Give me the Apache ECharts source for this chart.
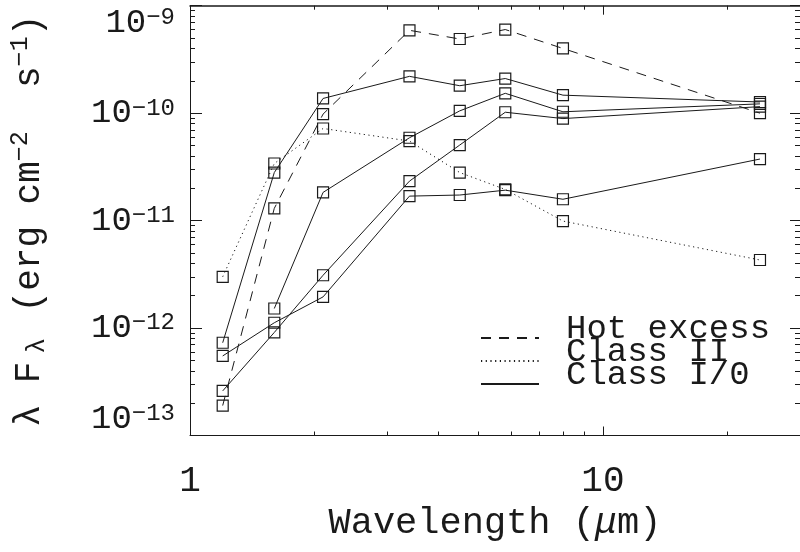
<!DOCTYPE html>
<html>
<head>
<meta charset="utf-8">
<script src="https://cdn.jsdelivr.net/npm/echarts@6/dist/echarts.min.js"></script>
<style>
  html, body { margin: 0; padding: 0; background: #fff; }
  #sed { width: 800px; height: 552px; }
</style>
</head>
<body>
<div id="sed"></div>
<script>
// wavelengths (micron) of the photometry
const wavelength = [1.2, 1.6, 2.1, 3.4, 4.5, 5.8, 8.0, 24];
// lambda F_lambda, erg cm^-2 s^-1
const hotExcess = [1.9e-13, 1.3e-11, 9.8e-11, 5.9e-10, 4.9e-10, 6.0e-10, 4.0e-10, 1.0e-10];
const classII = [3.0e-12, 3.4e-11, 7.2e-11, 5.5e-11, 2.8e-11, 1.95e-11, 9.9e-12, 4.3e-12];
const classI0 = [
  [7.3e-13, 2.8e-11, 1.37e-10, 2.2e-10, 1.8e-10, 2.1e-10, 1.47e-10, 1.27e-10],
  [null, 1.52e-12, 1.83e-11, 5.9e-11, 1.05e-10, 1.53e-10, 1.03e-10, 1.22e-10],
  [2.6e-13, 9.1e-13, 3.1e-12, 2.33e-11, 5.05e-11, 1.02e-10, 8.9e-11, 1.15e-10],
  [5.5e-13, 1.12e-12, 1.95e-12, 1.69e-11, 1.73e-11, 1.92e-11, 1.58e-11, 3.74e-11]
];
const xMajor = [1, 10];
const xMinor = [2, 3, 4, 5, 6, 7, 8, 9, 20];
const yMajor = [1e-13, 1e-12, 1e-11, 1e-10, 1e-9];

const MONO = "'Liberation Mono', 'DejaVu Sans Mono', monospace";
const INK = "#1a1a1a";

// 2..9 within each decade
const yMinor = [];
for (let e = -13; e < -9; e++) {
  for (let k = 2; k <= 9; k++) yMinor.push(k * Math.pow(10, e));
}

const pairs = (ys) => wavelength.map((x, i) => [x, ys[i] == null ? "-" : ys[i]]);

const baseSeries = {
  type: "line",
  symbol: "rect",
  symbolSize: 11,
  itemStyle: { color: "transparent", borderColor: INK, borderWidth: 1.2 },
  emphasis: { disabled: true },
  connectNulls: false,
  z: 3,
};

const series = [
  Object.assign({}, baseSeries, {
    name: "Hot excess",
    data: pairs(hotExcess),
    lineStyle: { color: INK, width: 1, type: [10, 8] },
  }),
  Object.assign({}, baseSeries, {
    name: "Class II",
    data: pairs(classII),
    lineStyle: { color: INK, width: 1, type: [1.2, 3.5] },
  }),
].concat(
  classI0.map((ys) =>
    Object.assign({}, baseSeries, {
      name: "Class I/0",
      data: pairs(ys),
      lineStyle: { color: INK, width: 1, type: "solid" },
    })
  )
);

const logX = (opts) =>
  Object.assign(
    {
      type: "log",
      logBase: 10,
      min: 1,
      max: 30,
      splitLine: { show: false },
      axisLine: { show: false },
      axisLabel: { show: false },
    },
    opts
  );
const logY = (opts) =>
  Object.assign(
    {
      type: "log",
      logBase: 10,
      min: 1e-13,
      max: 1e-9,
      splitLine: { show: false },
      axisLine: { show: false },
      axisLabel: { show: false },
    },
    opts
  );

const chart = echarts.init(document.getElementById("sed"));
chart.setOption({
  backgroundColor: "#fff",
  animation: false,
  grid: { left: 190, right: -1.5, top: 5.7, bottom: 116.5, containLabel: false },
  legend: {
    orient: "vertical",
    left: 480,
    top: 312,
    padding: 0,
    itemGap: -11,
    itemWidth: 58,
    itemHeight: 14,
    data: ["Hot excess", "Class II", "Class I/0"],
    itemStyle: { color: "transparent", borderWidth: 0 },
    formatter: (name) => "{a|" + name + "}{h| }",
    textStyle: {
      padding: [0, 0, 0, 22],
      rich: {
        a: { fontFamily: MONO, fontSize: 34, lineHeight: 24, color: INK, verticalAlign: "top" },
        h: { fontFamily: MONO, fontSize: 8, lineHeight: 52, color: INK },
      },
    },
  },
  xAxis: [
    logX({
      position: "bottom",
      axisLine: { show: true, lineStyle: { color: INK, width: 1 } },
      axisTick: { inside: true, length: 9, customValues: xMajor, lineStyle: { color: INK } },
      axisLabel: {
        show: true,
        customValues: xMajor,
        margin: 28,
        fontFamily: MONO,
        fontSize: 36,
        color: INK,
        formatter: (v) => String(Math.round(v)),
      },
      name: "Wavelength ({i|μ}m)",
      nameLocation: "middle",
      nameGap: 69,
      nameTextStyle: {
        fontFamily: MONO,
        fontSize: 37,
        color: INK,
        rich: { i: { fontFamily: MONO, fontSize: 37, fontStyle: "italic", color: INK } },
      },
    }),
    logX({
      position: "bottom",
      axisTick: { inside: true, length: 4, customValues: xMinor, lineStyle: { color: INK } },
    }),
    logX({
      position: "top",
      axisLine: { show: true, lineStyle: { color: INK, width: 1.5 } },
      axisTick: { inside: true, length: 9, customValues: xMajor, lineStyle: { color: INK } },
    }),
    logX({
      position: "top",
      axisTick: { inside: true, length: 4, customValues: xMinor, lineStyle: { color: INK } },
    }),
  ],
  yAxis: [
    logY({
      position: "left",
      axisLine: { show: true, lineStyle: { color: INK, width: 1 } },
      axisTick: { inside: true, length: 12, customValues: yMajor, lineStyle: { color: INK } },
      axisLabel: {
        show: true,
        customValues: yMajor,
        margin: 15,
        verticalAlignMaxLabel: "top",
        verticalAlignMinLabel: "bottom",
        formatter: (v) => "{b|10}{s|−" + Math.round(-Math.log10(v)) + "}",
        rich: {
          b: { fontFamily: MONO, fontSize: 34, lineHeight: 34, color: INK },
          s: { fontFamily: MONO, fontSize: 24, lineHeight: 24, color: INK, verticalAlign: "top" },
        },
      },
      name: "{t|λ F}{sub|λ}{t| (erg cm}{sup|−2}{t|  s}{sup|−1}{t|)}",
      nameLocation: "middle",
      nameRotate: 90,
      nameGap: 140,
      nameTextStyle: {
        rich: {
          t: { fontFamily: MONO, fontSize: 36, lineHeight: 42, color: INK },
          sub: { fontFamily: MONO, fontSize: 26, lineHeight: 26, color: INK, verticalAlign: "bottom", padding: [0, 4, 0, 8] },
          sup: { fontFamily: MONO, fontSize: 25, lineHeight: 25, color: INK, verticalAlign: "top" },
        },
      },
    }),
    logY({
      position: "left",
      axisTick: { inside: true, length: 5, customValues: yMinor, lineStyle: { color: INK } },
    }),
    logY({
      position: "right",
      axisLine: { show: true, lineStyle: { color: INK, width: 1 } },
      axisTick: { inside: true, length: 10, customValues: yMajor, lineStyle: { color: INK } },
    }),
    logY({
      position: "right",
      axisTick: { inside: true, length: 5, customValues: yMinor, lineStyle: { color: INK } },
    }),
  ],
  series: series,
});
</script>
</body>
</html>
